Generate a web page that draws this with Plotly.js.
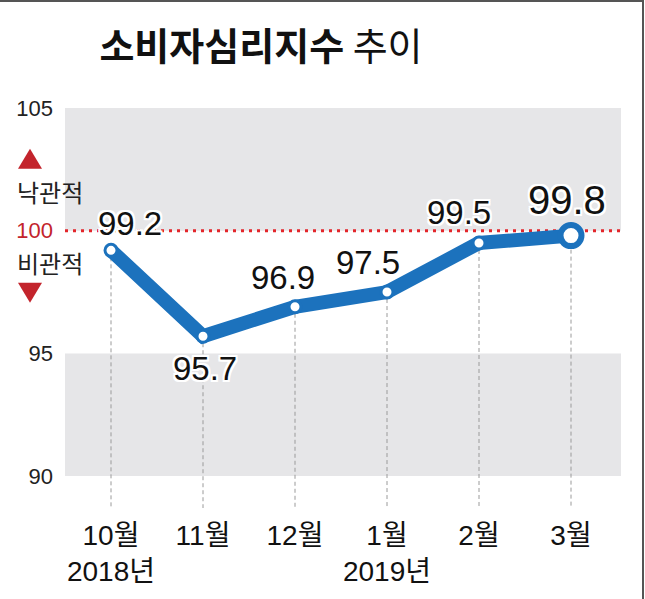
<!DOCTYPE html>
<html>
<head>
<meta charset="utf-8">
<script src="https://cdn.plot.ly/plotly-3.0.1.min.js"></script>
<style>html,body{margin:0;padding:0;background:#fff;}#chart{width:645px;height:599px;}</style>
</head>
<body>
<div id="chart"></div>
<script>
// ---- data ----
var months = ['10월', '11월', '12월', '1월', '2월', '3월'];
var years = ['2018년', '', '', '2019년', '', ''];
var values = [99.2, 95.7, 96.9, 97.5, 99.5, 99.8];
var yTicks = [90, 95, 100, 105];
var baseline = 100;

// ---- styling ----
var W = 645, H = 599;
var M = {l: 65, r: 24, t: 108, b: 91};
var PW = W - M.l - M.r, PH = H - M.t - M.b;
var yMin = 88.7, yMax = 105;
var blue = '#1c72bd';
var red = '#e3262b';
var darkRed = '#c3242c';
var numFont = '"Liberation Sans Narrow", "Liberation Sans", "Noto Sans CJK KR", sans-serif';
var korFont = '"Noto Sans CJK KR", sans-serif';
function pxX(px) { return (px - M.l) / PW; }
function pxY(py) { return (H - M.b - py) / PH; }

var idx = values.map(function (v, i) { return i; });
var tickText = months.map(function (m, i) { return years[i] ? m + '<br>' + years[i] : m; });
var n = values.length;

var lineTrace = {
  x: idx, y: values, type: 'scatter', mode: 'lines',
  line: {color: blue, width: 14},
  cliponaxis: false, hoverinfo: 'skip'
};
var dotTrace = {
  x: idx.slice(0, n - 1), y: values.slice(0, n - 1), type: 'scatter', mode: 'markers',
  marker: {color: 'rgb(255,255,255)', size: 12, opacity: 1, line: {color: blue, width: 3}},
  cliponaxis: false, hoverinfo: 'skip'
};
var lastTrace = {
  x: idx.slice(n - 1), y: values.slice(n - 1), type: 'scatter', mode: 'markers',
  marker: {color: 'rgb(255,255,255)', size: 21, opacity: 1, line: {color: blue, width: 6}},
  cliponaxis: false, hoverinfo: 'skip'
};

var shapes = [];
shapes.push({type: 'rect', xref: 'paper', yref: 'y', x0: 0, x1: 1, y0: baseline, y1: 105, fillcolor: '#e6e6e8', line: {width: 0}, layer: 'below'});
shapes.push({type: 'rect', xref: 'paper', yref: 'y', x0: 0, x1: 1, y0: 90, y1: 95, fillcolor: '#e6e6e8', line: {width: 0}, layer: 'below'});
values.forEach(function (v, i) {
  shapes.push({type: 'line', xref: 'x', yref: 'y', x0: i, x1: i, y0: v, y1: yMin, line: {color: '#9a9a9a', width: 1, dash: '4px,3px'}, layer: 'below'});
});
shapes.push({type: 'line', xref: 'paper', yref: 'y', x0: 0, x1: 1, y0: baseline, y1: baseline, line: {color: red, width: 3, dash: '3px,5px'}, layer: 'below'});
shapes.push({type: 'path', xref: 'paper', yref: 'y', xsizemode: 'pixel', ysizemode: 'pixel', xanchor: 0, yanchor: baseline,
  path: 'M -47 62 L -23 62 L -35 82 Z', fillcolor: darkRed, line: {width: 0}});
shapes.push({type: 'path', xref: 'paper', yref: 'y', xsizemode: 'pixel', ysizemode: 'pixel', xanchor: 0, yanchor: baseline,
  path: 'M -47 -52 L -23 -52 L -35 -72 Z', fillcolor: darkRed, line: {width: 0}});
shapes.push({type: 'line', xref: 'paper', yref: 'paper', x0: pxX(0), x1: pxX(644), y0: pxY(1), y1: pxY(1), line: {color: '#555', width: 2}});
shapes.push({type: 'line', xref: 'paper', yref: 'paper', x0: pxX(643), x1: pxX(643), y0: pxY(0), y1: pxY(599), line: {color: '#555', width: 2}});

var halo = '-2px -2px 0 #fff, 2px -2px 0 #fff, -2px 2px 0 #fff, 2px 2px 0 #fff, 0 2px 0 #fff, 0 -2px 0 #fff, 2px 0 0 #fff, -2px 0 0 #fff';
var labelShift = [[19, 27], [2, -32], [-12, 29], [-19, 30], [-20, 30], [-4, 36]];
var annotations = values.map(function (v, i) {
  var last = i === n - 1;
  return {
    x: i, y: v, xref: 'x', yref: 'y', text: v.toFixed(1), showarrow: false,
    xshift: labelShift[i][0], yshift: labelShift[i][1], xanchor: 'center', yanchor: 'middle',
    font: {family: numFont, size: last ? 40 : 33, color: '#111', shadow: halo}
  };
});
annotations.push({xref: 'paper', yref: 'paper', x: pxX(50), y: pxY(191), text: '낙관적', showarrow: false,
  xanchor: 'center', yanchor: 'middle', font: {family: korFont, size: 24, color: '#222'}});
annotations.push({xref: 'paper', yref: 'paper', x: pxX(50), y: pxY(262), text: '비관적', showarrow: false,
  xanchor: 'center', yanchor: 'middle', font: {family: korFont, size: 24, color: '#222'}});

var yTickText = yTicks.map(function (t) { return t === baseline ? '<span style="color:' + darkRed + '">' + t + '</span>' : String(t); });

var layout = {
  width: W, height: H, margin: M,
  paper_bgcolor: '#ffffff', plot_bgcolor: '#ffffff',
  showlegend: false,
  title: {text: '<b>소비자심리지수</b> 추이', x: 261 / W, xanchor: 'center', xref: 'container', y: 1 - 47 / H, yanchor: 'middle', yref: 'container',
    font: {family: korFont, size: 38, color: '#111'}},
  xaxis: {range: [-0.5, -0.5 + PW / 92], tickvals: idx, ticktext: tickText, showgrid: false, zeroline: false, showline: false,
    ticks: '', ticklabelstandoff: 8, tickfont: {family: numFont, size: 28, color: '#111'}, fixedrange: true},
  yaxis: {range: [yMin, yMax], tickvals: yTicks, ticktext: yTickText, showgrid: false, zeroline: false, showline: false,
    ticks: '', ticklabelstandoff: 11, tickfont: {family: '"Liberation Sans", Arial, sans-serif', size: 22, color: '#222'}, fixedrange: true},
  shapes: shapes,
  annotations: annotations
};

Plotly.newPlot('chart', [lineTrace, dotTrace, lastTrace], layout, {displayModeBar: false, staticPlot: true});
</script>
</body>
</html>
